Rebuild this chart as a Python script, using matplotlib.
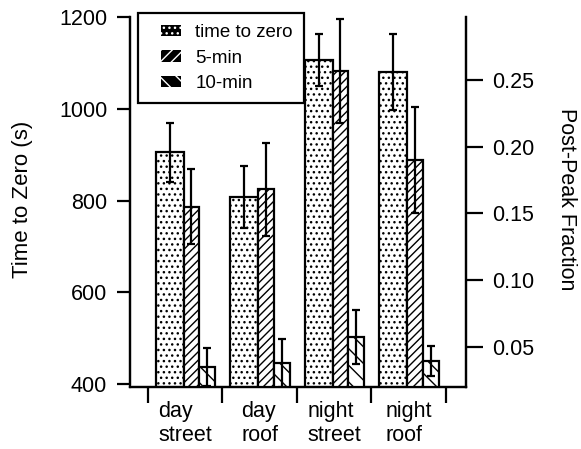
import numpy as np
import matplotlib
matplotlib.use('Agg')
import matplotlib.pyplot as plt
from matplotlib.patches import Patch, Rectangle
from matplotlib.legend_handler import HandlerPatch

plt.rcParams['font.family'] = ['Liberation Sans', 'DejaVu Sans']
plt.rcParams['hatch.linewidth'] = 1.0

# data
groups = ['day\nstreet', 'day\nroof', 'night\nstreet', 'night\nroof']
ttz = [905, 807, 1106, 1080]
ttz_err = [65, 68, 57, 82]
min5 = [0.155, 0.168, 0.257, 0.190]
min5_err = [0.028, 0.035, 0.039, 0.040]
min10 = [0.035, 0.038, 0.0575, 0.0395]
min10_err = [0.014, 0.018, 0.020, 0.011]

x = np.arange(len(groups))

fig = plt.figure(figsize=(5.81, 4.49), dpi=100)
ax = fig.add_axes([130/581, 1-387/449, 336/581, 370/449])
ax2 = ax.twinx()

lw = 1.6
ax.bar(x + 0.292, ttz, width=0.376, color='white', edgecolor='black',
       hatch='...', linewidth=lw)
ax.errorbar(x + 0.292, ttz, yerr=ttz_err, fmt='none', ecolor='black',
            elinewidth=1.6, capsize=3, capthick=1.6)

ax2.bar(x + 0.585, min5, width=0.21, color='white', edgecolor='black',
        hatch='////', linewidth=lw)
ax2.errorbar(x + 0.585, min5, yerr=min5_err, fmt='none', ecolor='black',
             elinewidth=1.6, capsize=3, capthick=1.6)
ax2.bar(x + 0.797, min10, width=0.215, color='white', edgecolor='black',
        hatch='\\\\', linewidth=lw)
ax2.errorbar(x + 0.797, min10, yerr=min10_err, fmt='none', ecolor='black',
             elinewidth=1.6, capsize=3, capthick=1.6)

ax.set_xlim(-0.24, 4.27)
ax.set_ylim(393.5, 1200)
ax2.set_ylim(0.02, 0.2972)

ax.set_yticks([400, 600, 800, 1000, 1200])
ax2.set_yticks([0.05, 0.10, 0.15, 0.20, 0.25])
ax2.set_yticklabels(['0.05', '0.10', '0.15', '0.20', '0.25'])

# group separators as ticks, names centred between them
ax.set_xticks(np.arange(len(groups) + 1))
ax.set_xticklabels([])
ax.set_xticks(x + 0.5, minor=True)
ax.set_xticklabels(groups, minor=True, multialignment='left')
ax.tick_params(axis='x', which='major', length=11.5, width=1.6, direction='out')
ax.tick_params(axis='x', which='minor', length=0, pad=10, labelsize=15.5)
ax.tick_params(axis='y', length=9.4, width=1.6, pad=7, labelsize=15.5)
ax2.tick_params(axis='y', length=12.5, width=1.6, pad=6, labelsize=15.5)

for a in (ax, ax2):
    a.spines['top'].set_visible(False)
    for s in a.spines.values():
        s.set_linewidth(1.6)
ax.spines['left'].set_bounds(400, 1200)

ax.set_ylabel('Time to Zero (s)', fontsize=16)
ax.yaxis.set_label_coords(-0.289, 0.508)
ax2.set_ylabel('Post-Peak Fraction', fontsize=15.5, rotation=270, va='bottom')
ax2.yaxis.set_label_coords(1.268, 0.507)


def small_box(legend, orig_handle, xdescent, ydescent, width, height, fontsize):
    w = 14.4
    return Rectangle((width - w - xdescent, -ydescent), w, height)


handles = [Patch(facecolor='black', edgecolor='white', hatch='...', linewidth=0),
           Patch(facecolor='black', edgecolor='white', hatch='///', linewidth=0),
           Patch(facecolor='black', edgecolor='white', hatch='\\\\', linewidth=0)]
leg = ax2.legend(handles, ['time to zero', '5-min', '10-min'],
                 loc='upper left', bbox_to_anchor=(0.024, 1.011),
                 borderaxespad=0, fontsize=13.5, frameon=True, fancybox=False,
                 edgecolor='black', framealpha=1, borderpad=0.6,
                 labelspacing=0.45, handlelength=1.7, handleheight=0.55,
                 handletextpad=0.75,
                 handler_map={Patch: HandlerPatch(patch_func=small_box)})
leg.get_frame().set_linewidth(1.6)

fig.savefig('out.png', dpi=100)
